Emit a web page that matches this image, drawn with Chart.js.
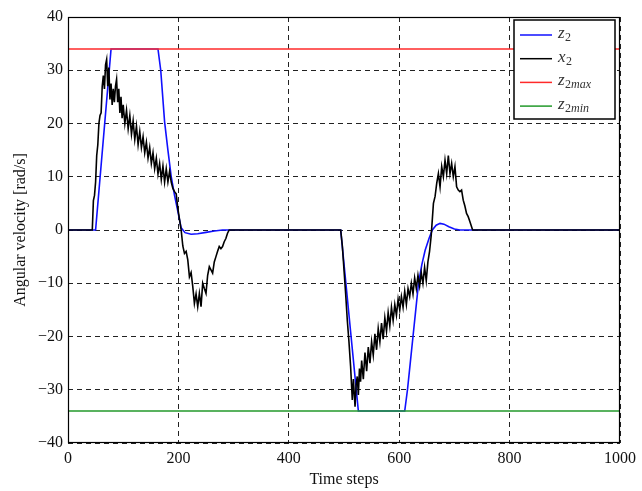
<!DOCTYPE html>
<html>
<head>
<meta charset="utf-8">
<script src="https://cdn.jsdelivr.net/npm/chart.js@4"></script>
<style>
  html, body { margin: 0; padding: 0; background: #fff; }
  #wrap { width: 642px; height: 491px; }
</style>
</head>
<body>
<div id="wrap"><canvas id="chart" width="642" height="491"></canvas></div>
<script>
// series labels (legend order)
var seriesLabels = ['z2', 'x2', 'z2max', 'z2min'];

// z2 : reference velocity (time step, value)
var z2Time = [0, 50, 78, 163, 168, 175, 181, 187, 193, 199, 205, 212, 223, 235, 250, 265, 280,
  494, 526, 610, 615, 620, 625, 630, 635, 641, 647, 654, 660, 667, 674, 681, 690, 700, 710, 1000];
var z2Vals = [0, 0, 34, 34, 30, 20.3, 15, 10, 6.5, 3.5, 0.4, -0.5, -0.8, -0.7, -0.45, -0.2, 0,
  0, -34, -34, -30, -25, -20, -15, -10, -6.5, -3.8, -1.6, 0, 0.9, 1.25, 1.1, 0.6, 0.2, 0, 0];

// x2 : measured velocity
var x2Time = [0, 44, 46, 48, 50, 52, 54, 56, 58, 60, 62, 64, 66, 68, 70, 72, 74, 76, 78, 80,
  82, 84, 86, 88, 90, 92, 94, 96, 98, 100, 103, 106, 109, 112, 115, 118, 121, 124, 127, 130,
  133, 136, 139, 142, 145, 148, 151, 154, 157, 160, 163, 166, 169, 172, 175, 178, 181, 184, 187, 190,
  193, 196, 199, 202, 205, 208, 211, 214, 217, 220, 223, 226, 229, 232, 235, 238, 241, 244, 247, 250,
  253, 256, 259, 262, 265, 268, 271, 274, 277, 280, 283, 286, 289, 292,
  494, 497, 500, 503, 506, 509, 512, 515, 517, 520, 522, 524, 526, 528, 530, 532, 535, 538, 541, 544,
  547, 550, 553, 556, 559, 562, 565, 568, 571, 574, 577, 580, 583, 586, 589, 592, 595, 598, 601, 604,
  607, 610, 613, 616, 619, 622, 625, 628, 631, 634, 637, 640, 643, 646, 649, 652, 655, 658, 660, 662,
  665, 668, 671, 674, 677, 680, 683, 686, 689, 692, 695, 698, 701, 704, 707, 710, 713, 716, 719, 722,
  725, 728, 733, 1000];
var x2Vals = [0, 0, 5.5, 6.5, 9, 14, 16, 20, 21.5, 22, 27, 29, 26.5, 31, 32, 27, 30.5, 24.5, 27.5, 23.5,
  26.5, 24, 27, 28.3, 24, 26.5, 22, 25, 21, 23.5, 20, 22.5, 19, 21.5, 18, 20.5, 17, 19.5, 16, 18.5,
  15.5, 17.5, 14.5, 16.5, 13.5, 15.5, 12.5, 14.5, 11.5, 13.5, 10.5, 12.5, 9.5, 12, 9, 11.5, 9, 11, 9, 7.8,
  7.2, 6.8, 4, 2, 0, -3, -4.4, -4, -5.6, -8.8, -8, -10.6, -13.8, -12, -14.4, -11.9, -14.4, -10, -11, -11.9,
  -8.5, -6.9, -7.5, -8.1, -6, -5, -4, -3.1, -3.5, -3.1, -2.2, -1.6, -0.6, 0,
  0, -3, -7.5, -12, -17, -21, -25.7, -31.9, -28, -33.2, -29, -27.5, -31, -26, -28.5, -24.5, -28, -23, -26.5, -22,
  -25, -21, -23.5, -19.5, -22.5, -18.5, -21, -17.5, -20.5, -16.5, -19, -15.5, -18, -14.5, -17, -14, -16, -13, -15, -12.5,
  -14.5, -11.5, -14, -11, -12.5, -10, -12, -9, -11, -8.5, -10.5, -8, -10, -7, -9.5, -6, -4, -1, 2, 5,
  6.3, 8.8, 10.6, 8.1, 11.9, 10, 13.1, 10.6, 14, 10.6, 12.5, 10, 11.9, 8.1, 7.5, 7.2, 7.5, 5.6, 4.5, 3.1,
  2.5, 1.6, 0, 0];

// limits
var limitTime = [0, 1000];
var z2maxVals = [34, 34];
var z2minVals = [-34, -34];

var seriesColors = ['#1010ff', '#000000', '#ff2a2a', '#22992a'];

function toPoints(xs, ys) {
  return xs.map(function (x, i) { return { x: x, y: ys[i] }; });
}

var serif = '"Liberation Serif", "DejaVu Serif", serif';

// frame box + legend inside the plot
var framePlugin = {
  id: 'frame',
  afterDraw: function (chart) {
    var ctx = chart.ctx, a = chart.chartArea;
    ctx.save();
    ctx.strokeStyle = '#000';
    ctx.lineWidth = 1.2;
    ctx.strokeRect(a.left + 0.5, a.top + 0.5, a.right - a.left - 1, a.bottom - a.top - 1);

    // legend box
    var bw = 101, bh = 99;
    var bx = a.right - 5 - bw, by = a.top + 3;
    ctx.fillStyle = '#fff';
    ctx.fillRect(bx, by, bw, bh);
    ctx.lineWidth = 1.5;
    ctx.strokeRect(bx, by, bw, bh);
    chart.data.datasets.forEach(function (ds, i) {
      var yy = by + 15 + i * 23.7;
      ctx.strokeStyle = ds.borderColor;
      ctx.lineWidth = 1.5;
      ctx.beginPath();
      ctx.moveTo(bx + 6, yy);
      ctx.lineTo(bx + 38, yy);
      ctx.stroke();
      var lab = ds.label;
      ctx.fillStyle = '#333';
      ctx.textBaseline = 'alphabetic';
      ctx.textAlign = 'left';
      ctx.font = 'italic 17px ' + serif;
      var tx = bx + 44;
      ctx.fillText(lab.charAt(0), tx, yy + 3);
      tx += ctx.measureText(lab.charAt(0)).width + 0.5;
      ctx.font = '12px ' + serif;
      ctx.fillText(lab.charAt(1), tx, yy + 6);
      tx += ctx.measureText(lab.charAt(1)).width;
      if (lab.length > 2) {
        ctx.font = 'italic 12px ' + serif;
        ctx.fillText(lab.slice(2), tx, yy + 6);
      }
    });
    ctx.restore();
  }
};

var datasets = [
  { label: seriesLabels[0], data: toPoints(z2Time, z2Vals), borderColor: seriesColors[0], order: 4 },
  { label: seriesLabels[1], data: toPoints(x2Time, x2Vals), borderColor: seriesColors[1], order: 3 },
  { label: seriesLabels[2], data: toPoints(limitTime, z2maxVals), borderColor: seriesColors[2], order: 2 },
  { label: seriesLabels[3], data: toPoints(limitTime, z2minVals), borderColor: seriesColors[3], order: 1 }
];
datasets.forEach(function (d) {
  d.borderWidth = 1.6;
  d.pointRadius = 0;
  d.fill = false;
  d.tension = 0;
});

function minus(v) { return String(v).replace('-', '\u2212'); }

new Chart(document.getElementById('chart'), {
  type: 'line',
  data: { datasets: datasets },
  options: {
    responsive: false,
    animation: false,
    devicePixelRatio: 1,
    layout: { padding: { left: 11, right: 20, top: 17, bottom: 0 } },
    plugins: { legend: { display: false }, tooltip: { enabled: false } },
    scales: {
      x: {
        type: 'linear', min: 0, max: 1000,
        grid: { color: '#222', lineWidth: 1, drawTicks: false },
        border: { display: false, dash: [5, 4] },
        ticks: { stepSize: 200, color: '#111', padding: 6, maxRotation: 0,
                 font: { family: serif, size: 16 }, callback: function (v) { return String(v); } },
        title: { display: true, text: 'Time steps', color: '#111', padding: { top: 0, bottom: 2 },
                 font: { family: serif, size: 16 } },
        afterFit: function (s) { s.height = 48; }
      },
      y: {
        type: 'linear', min: -40, max: 40,
        grid: { color: '#222', lineWidth: 1, drawTicks: false },
        border: { display: false, dash: [5, 4] },
        ticks: { stepSize: 10, color: '#111', padding: 5,
                 font: { family: serif, size: 16 }, callback: function (v) { return minus(v); } },
        title: { display: true, text: 'Angular velocity [rad/s]', color: '#111', padding: { top: 0, bottom: 0 },
                 font: { family: serif, size: 16 } },
        afterFit: function (s) { s.width = 57; }
      }
    }
  },
  plugins: [framePlugin]
});
</script>
</body>
</html>
